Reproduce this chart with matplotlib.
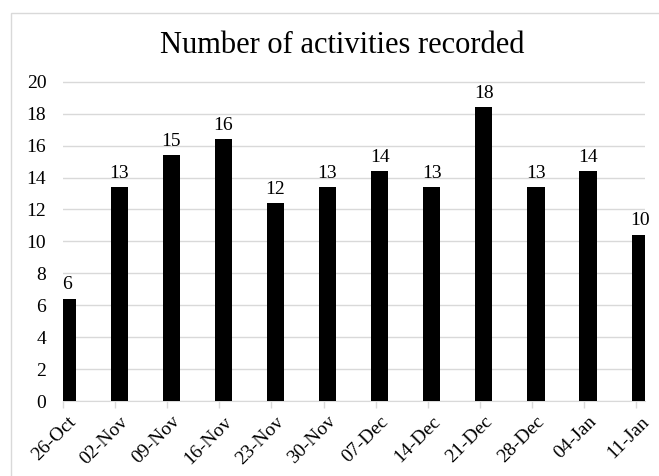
import matplotlib

matplotlib.use("Agg")
import matplotlib.pyplot as plt  # noqa: E402
import matplotlib.transforms as mtransforms  # noqa: E402
from matplotlib.patches import Rectangle  # noqa: E402

# Week labels and counts (bar heights as drawn; labels show them rounded)
weeks = ["26-Oct", "02-Nov", "09-Nov", "16-Nov", "23-Nov", "30-Nov",
         "07-Dec", "14-Dec", "21-Dec", "28-Dec", "04-Jan", "11-Jan"]
counts = [6.4, 13.4, 15.4, 16.4, 12.4, 13.4, 14.4, 13.4, 18.4, 13.4, 14.4, 10.4]
y_ticks = [0, 2, 4, 6, 8, 10, 12, 14, 16, 18, 20]

GRID = "#d9d9d9"
W, H = 659, 476

plt.rcParams["font.family"] = ["Liberation Serif", "DejaVu Serif"]

fig = plt.figure(figsize=(W / 100, H / 100), dpi=100)
ax = fig.add_axes([63 / W, 1 - 401 / H, (645 - 63) / W, (401 - 81) / H])

# chart area border (only top/left visible in the crop)
fig.patches.append(Rectangle((11 / W, -0.1), 1.2, 1 - 13 / H + 0.1,
                             transform=fig.transFigure, fill=False,
                             edgecolor=GRID, linewidth=1.0))

x = list(range(len(weeks)))
bar_x = [i + 0.077 for i in x]
bars = ax.bar(bar_x, counts, width=0.33, color="black", zorder=3)
ax.bar_label(bars, labels=[f"{c:.0f}" for c in counts], padding=4, fontsize=14)

ax.set_xlim(0, 11.17)
ax.set_ylim(0, 20.05)
ax.set_yticks(y_ticks)
ax.set_xticks(x)
ax.set_xticklabels([])

# rotated category labels, ending just right of each tick
offset = mtransforms.ScaledTranslation(10 / 100, -18 / 100, fig.dpi_scale_trans)
label_tf = ax.get_xaxis_transform() + offset
for xi, wk in zip(x, weeks):
    ax.text(xi, 0, wk, transform=label_tf, rotation=45, rotation_mode="anchor",
            ha="right", va="center", fontsize=14, clip_on=False)

ax.tick_params(axis="y", length=0, pad=12, labelsize=14)
ax.tick_params(axis="x", length=5, color=GRID, width=1.0, pad=0)
ax.grid(axis="y", color=GRID, linewidth=1.0, zorder=0)
ax.set_axisbelow(True)
for side in ["top", "right", "left"]:
    ax.spines[side].set_visible(False)
ax.spines["bottom"].set_color(GRID)

fig.text(342 / W, 1 - 53 / H, "Number of activities recorded",
         ha="center", va="baseline", fontsize=22)

fig.savefig("out.png", dpi=100)
